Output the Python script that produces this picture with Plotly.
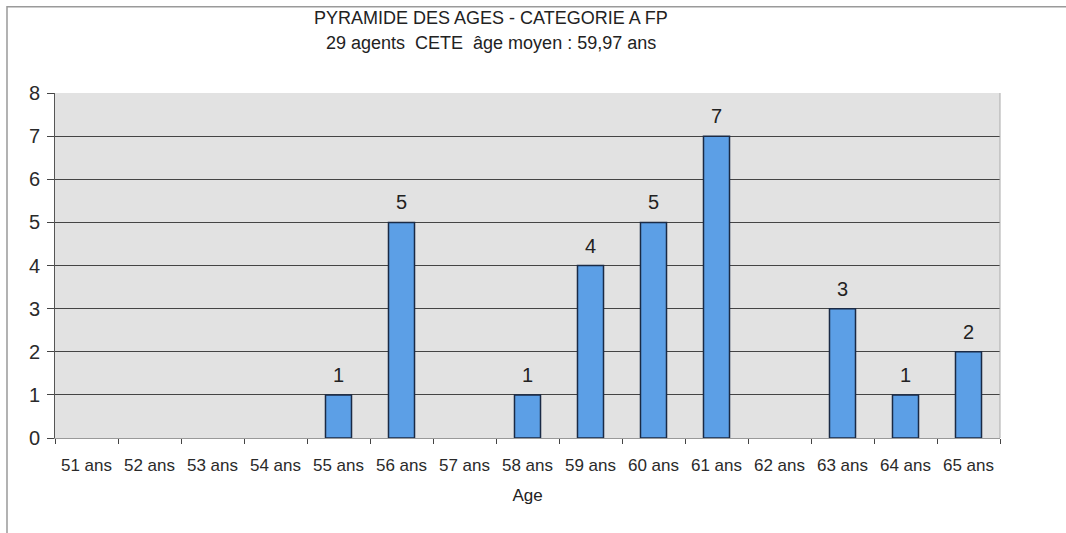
import plotly.graph_objects as go

categories = ["51 ans", "52 ans", "53 ans", "54 ans", "55 ans", "56 ans", "57 ans", "58 ans",
              "59 ans", "60 ans", "61 ans", "62 ans", "63 ans", "64 ans", "65 ans"]
values = [0, 0, 0, 0, 1, 5, 0, 1, 4, 5, 7, 0, 3, 1, 2]
title_line1 = "PYRAMIDE DES AGES - CATEGORIE A FP"
title_line2 = "29 agents  CETE  âge moyen : 59,97 ans"

line_widths = [1.5 if v > 0 else 0 for v in values]

FONT = "Liberation Sans, Arial, sans-serif"

fig = go.Figure()
fig.add_trace(go.Bar(
    x=categories, y=values,
    marker=dict(color="#5c9fe6", line=dict(color="#1a2a45", width=line_widths)),
))

value_labels = [
    dict(x=c, y=v, text=str(v), xref="x", yref="y", xanchor="center", yanchor="bottom",
         yshift=7, showarrow=False, font=dict(size=20, color="#222"))
    for c, v in zip(categories, values) if v > 0
]

fig.update_layout(
    width=1066, height=533,
    margin=dict(l=55, r=66, t=93, b=95),
    paper_bgcolor="white",
    plot_bgcolor="#e2e2e2",
    bargap=0.587,
    showlegend=False,
    font=dict(family=FONT, color="#222"),
    xaxis=dict(
        title=dict(text="Age", font=dict(size=17), standoff=14),
        tickfont=dict(size=17, color="#2a2a2a"),
        ticks="outside", tickson="boundaries", ticklen=5, tickcolor="#444",
        ticklabelstandoff=12,
        showline=True, linecolor="#999", linewidth=1,
        showgrid=False,
    ),
    yaxis=dict(
        range=[0, 8], dtick=1,
        tickfont=dict(size=20, color="#2a2a2a"),
        ticks="outside", ticklen=7, tickcolor="#444",
        ticklabelstandoff=3,
        showline=True, linecolor="#555", linewidth=1,
        gridcolor="#444444", gridwidth=1.2,
        zeroline=False,
    ),
    annotations=[
        dict(text=title_line1, xref="paper", yref="paper", x=0.461, y=1.217,
             xanchor="center", yanchor="middle", showarrow=False,
             font=dict(size=18, color="#222")),
        dict(text=title_line2, xref="paper", yref="paper", x=0.461, y=1.145,
             xanchor="center", yanchor="middle", showarrow=False,
             font=dict(size=18, color="#222")),
    ] + value_labels,
    shapes=[
        # outer frame (only top and left edges visible in the reference)
        dict(type="rect", xref="paper", yref="paper",
             x0=-0.0508, x1=1.2, y0=-0.5, y1=1.25,
             line=dict(color="#9a9a9a", width=1.5), fillcolor="rgba(0,0,0,0)"),
        dict(type="line", xref="paper", yref="paper", x0=1, x1=1, y0=0, y1=1,
             line=dict(color="#aaa", width=1)),
    ],
)

fig.write_html("out.html", config={"displayModeBar": False},
               post_script="document.body.style.margin='0';")
